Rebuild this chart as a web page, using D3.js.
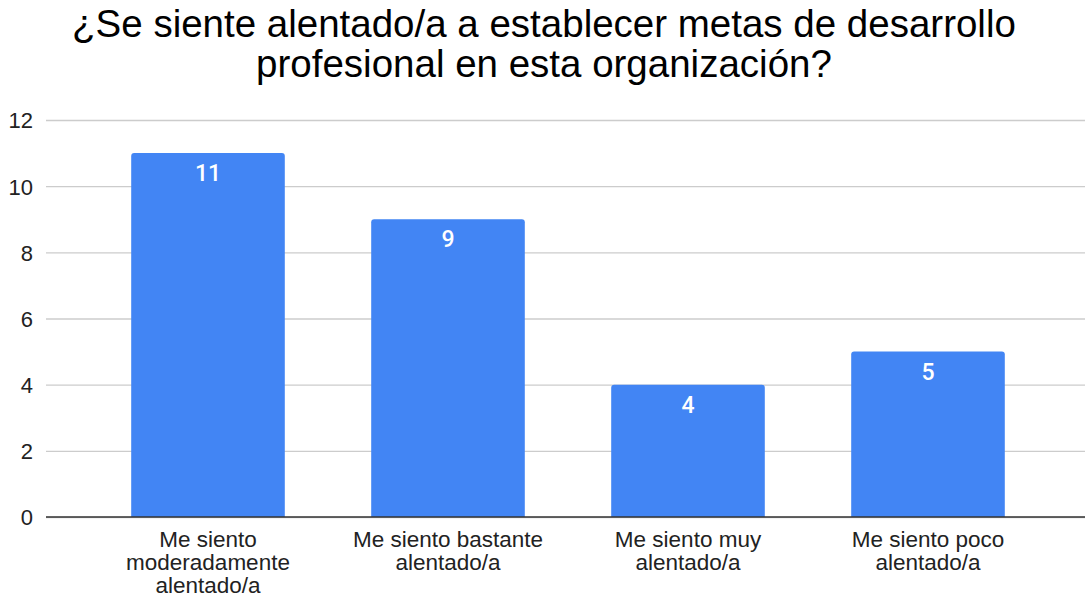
<!DOCTYPE html>
<html>
<head>
<meta charset="utf-8">
<script src="https://cdn.jsdelivr.net/npm/d3@7"></script>
<style>
  html, body { margin: 0; padding: 0; background: #fff; }
  svg { display: block; }
</style>
</head>
<body>
<svg id="chart" width="1085" height="599"></svg>
<script>
// Survey responses: encouragement to set professional development goals
const titleLines = ["¿Se siente alentado/a a establecer metas de desarrollo", "profesional en esta organización?"];
const categories = [
  ["Me siento", "moderadamente", "alentado/a"],
  ["Me siento bastante", "alentado/a"],
  ["Me siento muy", "alentado/a"],
  ["Me siento poco", "alentado/a"]
];
const counts = [11, 9, 4, 5];
const yTicks = [0, 2, 4, 6, 8, 10, 12];

const svg = d3.select("#chart");
const plotLeft = 46, plotRight = 1085;
const yTop = 120, yBottom = 517;
const sans = "'Liberation Sans', Arial, sans-serif";

const x = d3.scaleBand()
  .domain(d3.range(categories.length))
  .range([88, 1048])
  .paddingInner(0.36)
  .paddingOuter(0.18);

const y = d3.scaleLinear().domain([0, 12]).range([yBottom, yTop]);

// Title
svg.append("g")
  .selectAll("text")
  .data(titleLines)
  .join("text")
  .attr("x", 544)
  .attr("y", (d, i) => 37 + i * 40)
  .attr("text-anchor", "middle")
  .attr("font-family", sans)
  .attr("font-size", 38.5)
  .attr("fill", "#000")
  .text(d => d);

// Gridlines and y tick labels
const yAxis = d3.axisLeft(y).tickValues(yTicks).tickSize(-(plotRight - plotLeft)).tickPadding(13);
const gy = svg.append("g").attr("transform", `translate(${plotLeft},0)`).call(yAxis);
gy.select(".domain").remove();
gy.selectAll(".tick line").attr("stroke", "#cccccc").attr("stroke-width", 1.3);
gy.selectAll(".tick text")
  .attr("font-family", sans)
  .attr("font-size", 22)
  .attr("fill", "#222")
  .attr("dy", "0.36em");

// Bars with slightly rounded tops
const r = 3;
svg.append("g")
  .selectAll("path")
  .data(counts)
  .join("path")
  .attr("fill", "#4285f4")
  .attr("d", (d, i) => {
    const x0 = x(i), w = x.bandwidth(), top = y(d), bot = y(0);
    return `M${x0},${bot}V${top + r}Q${x0},${top} ${x0 + r},${top}H${x0 + w - r}Q${x0 + w},${top} ${x0 + w},${top + r}V${bot}Z`;
  });

// Value labels inside bars
svg.append("g")
  .selectAll("text")
  .data(counts)
  .join("text")
  .attr("x", (d, i) => x(i) + x.bandwidth() / 2)
  .attr("y", d => y(d) + 28)
  .attr("text-anchor", "middle")
  .attr("font-family", "Roboto, 'Liberation Sans', sans-serif")
  .attr("font-weight", 500)
  .attr("font-size", 23)
  .attr("fill", "#fff")
  .text(d => d);

// Baseline
svg.append("line")
  .attr("x1", plotLeft).attr("x2", plotRight)
  .attr("y1", y(0)).attr("y2", y(0))
  .attr("stroke", "#333").attr("stroke-width", 1.5);

// Category labels
const cat = svg.append("g")
  .selectAll("text")
  .data(categories)
  .join("text")
  .attr("x", (d, i) => x(i) + x.bandwidth() / 2)
  .attr("y", 547)
  .attr("text-anchor", "middle")
  .attr("font-family", sans)
  .attr("font-size", 22.5)
  .attr("fill", "#222");
cat.selectAll("tspan")
  .data(d => d)
  .join("tspan")
  .attr("x", function() { return d3.select(this.parentNode).attr("x"); })
  .attr("dy", (d, i) => i === 0 ? 0 : 23)
  .text(d => d);
</script>
</body>
</html>
